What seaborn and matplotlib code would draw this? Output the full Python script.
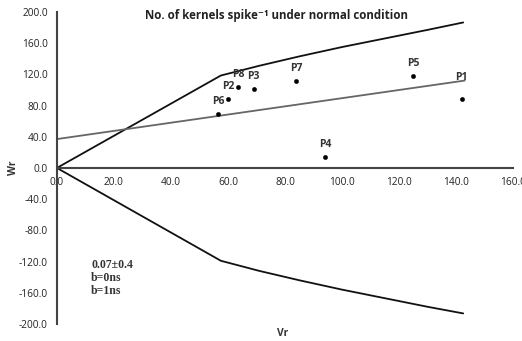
import seaborn as sns
import matplotlib.pyplot as plt
import pandas as pd

# parents (Vr, Wr)
parents = ["P1", "P2", "P3", "P4", "P5", "P6", "P7", "P8"]
vr = [142.0, 60.0, 69.0, 94.0, 125.0, 56.5, 84.0, 63.5]
wr = [89.0, 89.0, 101.0, 14.0, 117.5, 69.0, 112.0, 104.0]

# regression line
reg_x = [0.0, 143.0]
reg_y = [37.0, 112.0]

# limiting parabola (upper and lower branch)
par_x = [0.0, 57.5, 71.0, 85.0, 100.0, 115.0, 130.0, 142.5]
par_up = [0.0, 118.5, 131.0, 143.0, 155.0, 166.0, 177.0, 186.5]
par_low = [0.0, -119.0, -132.0, -144.0, -156.0, -167.0, -178.0, -186.5]

sns.set_style("white")
plt.rcParams['font.family'] = ['Open Sans', 'DejaVu Sans']

fig = plt.figure(figsize=(5.22, 3.41), dpi=100)
ax = fig.add_axes([0.109, 0.05, 0.874, 0.915])

df = pd.DataFrame({"Vr": vr, "Wr": wr, "parent": parents})
sns.lineplot(x=par_x, y=par_up, ax=ax, color="#111111", lw=1.3, sort=False)
sns.lineplot(x=par_x, y=par_low, ax=ax, color="#111111", lw=1.3, sort=False)
sns.lineplot(x=reg_x, y=reg_y, ax=ax, color="#666666", lw=1.3, sort=False)
sns.scatterplot(data=df, x="Vr", y="Wr", ax=ax, color="black", s=10,
                edgecolor="black", zorder=5)

for p, x, y in zip(parents, vr, wr):
    off = 15 if p == "P1" else 9
    ax.annotate(p, (x, y), xytext=(0, off), textcoords="offset points",
                ha="center", va="center", fontsize=7.5, fontweight="bold",
                color="#333333")

ax.set_xlim(0, 160)
ax.set_ylim(-200, 200)
ax.set_xticks(range(0, 161, 20))
ax.set_yticks(range(-200, 201, 40))
ax.set_xticklabels([f"{v:.1f}" for v in range(0, 161, 20)])
ax.set_yticklabels([f"{v:.1f}" for v in range(-200, 201, 40)])
ax.tick_params(axis="both", labelsize=7.3, colors="#222222",
               length=3, width=1, direction="out")
for lab in ax.get_xticklabels() + ax.get_yticklabels():
    lab.set_fontweight("bold")

ax.spines["left"].set_position(("data", 0))
ax.spines["bottom"].set_position(("data", 0))
ax.spines["top"].set_visible(False)
ax.spines["right"].set_visible(False)
for s in ["left", "bottom"]:
    ax.spines[s].set_color("#444444")
    ax.spines[s].set_linewidth(1.5)
ax.set_xlabel("")
ax.set_ylabel("")

ax.text(77, 195, "No. of kernels spike\u207b\u00b9 under normal condition",
        ha="center", va="center", fontsize=8.3, fontweight="bold",
        color="#222222")
ax.text(12, -141, "0.07\u00b10.4\nb=0ns\nb=1ns", ha="left", va="center",
        fontsize=8.5, fontweight="bold", family="Liberation Serif",
        linespacing=1.15, color="#333333")

fig.text(14 / 522, 1 - 168 / 341, "Wr", rotation=90, ha="center",
         va="center", fontsize=7.5, fontweight="bold", color="#333333")
fig.text(283 / 522, 1 - 333 / 341, "Vr", ha="center", va="center",
         fontsize=7.5, fontweight="bold", color="#333333")

fig.savefig("out.png", dpi=100)
plt.close()
